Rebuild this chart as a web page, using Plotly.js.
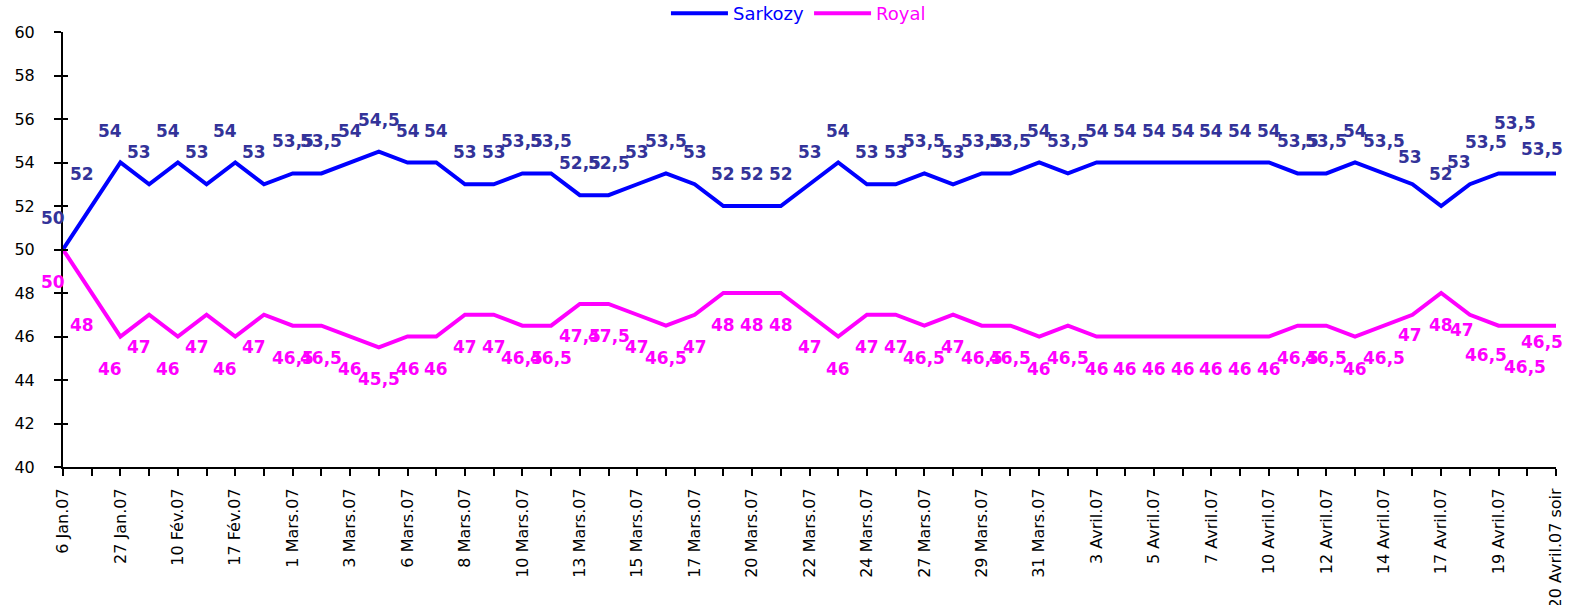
<!DOCTYPE html>
<html>
<head>
<meta charset="utf-8">
<script src="https://cdn.plot.ly/plotly-3.0.1.min.js"></script>
<style>html,body{margin:0;padding:0;background:#fff;}#chart{width:1569px;height:605px;}</style>
</head>
<body>
<div id="chart"></div>
<script>
// Tick labels (one every two survey points)
const tickLabels = ["6 Jan.07","27 Jan.07","10 Fév.07","17 Fév.07","1 Mars.07","3 Mars.07","6 Mars.07","8 Mars.07","10 Mars.07","13 Mars.07","15 Mars.07","17 Mars.07","20 Mars.07","22 Mars.07","24 Mars.07","27 Mars.07","29 Mars.07","31 Mars.07","3 Avril.07","5 Avril.07","7 Avril.07","10 Avril.07","12 Avril.07","14 Avril.07","17 Avril.07","19 Avril.07","20 Avril.07 soir"];

const sarkozy = [50,52,54,53,54,53,54,53,53.5,53.5,54,54.5,54,54,53,53,53.5,53.5,52.5,52.5,53,53.5,53,52,52,52,53,54,53,53,53.5,53,53.5,53.5,54,53.5,54,54,54,54,54,54,54,53.5,53.5,54,53.5,53,52,53,53.5,53.5,53.5];
const royal = [50,48,46,47,46,47,46,47,46.5,46.5,46,45.5,46,46,47,47,46.5,46.5,47.5,47.5,47,46.5,47,48,48,48,47,46,47,47,46.5,47,46.5,46.5,46,46.5,46,46,46,46,46,46,46,46.5,46.5,46,46.5,47,48,47,46.5,46.5,46.5];

// Style only: pixel nudges of a few value labels, as placed in the original
const nudgeSarkozy = {47: [-2, 27], 49: [-11, 22], 50: [-13, 31], 51: [-12, 50], 52: [-14, 24]};
const nudgeRoyal = {47: [-2, -20], 49: [-8, -15], 50: [-13, -29], 51: [-2, -41], 52: [-14, -16]};

const idx = sarkozy.map((_, i) => i);
const tickVals = tickLabels.map((_, k) => 2 * k);
const fmt = v => String(v).replace('.', ',');

const traces = [
  {x: idx, y: sarkozy, mode: 'lines', name: '<span style="color:#0000FF">Sarkozy</span>',
   line: {color: '#0000FF', width: 4}, hoverinfo: 'skip'},
  {x: idx, y: royal, mode: 'lines', name: '<span style="color:#FF00FF">Royal</span>',
   line: {color: '#FF00FF', width: 4}, hoverinfo: 'skip'}
];

const labelFont = (c) => ({family: 'DejaVu Sans', size: 17, color: c, weight: 'bold'});
const annotations = [];
function addLabels(series, nudges, dir, color) {
  series.forEach((v, i) => {
    const d = nudges[i] || [i < 8 ? -10 : 0, 32 * dir];
    annotations.push({x: i, y: v, xref: 'x', yref: 'y', text: fmt(v), showarrow: false,
      xshift: d[0], yshift: d[1], font: labelFont(color)});
  });
}
addLabels(sarkozy, nudgeSarkozy, 1, '#333399');
addLabels(royal, nudgeRoyal, -1, '#FF00FF');

const layout = {
  width: 1569, height: 605,
  margin: {l: 63, r: 13, t: 32, b: 138, autoexpand: false},
  paper_bgcolor: '#fff', plot_bgcolor: '#fff',
  font: {family: 'DejaVu Sans', size: 16, color: '#000'},
  showlegend: true,
  legend: {orientation: 'h', x: 0.4926, xanchor: 'center', y: 1.0, yanchor: 'bottom', itemwidth: 57,
           font: {family: 'DejaVu Sans', size: 18}, bgcolor: 'rgba(0,0,0,0)'},
  xaxis: {
    range: [0, 52], tickmode: 'array', tickvals: tickVals, ticktext: tickLabels,
    tickangle: -90, ticks: 'outside', ticklen: 7, tickwidth: 2, tickcolor: '#000',
    showline: true, linecolor: '#000', linewidth: 2, showgrid: false, zeroline: false,
    tickfont: {family: 'DejaVu Sans', size: 16, color: '#000'}, ticklabelstandoff: 6,
    minor: {tickmode: 'linear', tick0: 0, dtick: 1, ticks: 'outside', ticklen: 7, tickwidth: 2, tickcolor: '#000', showgrid: false},
    fixedrange: true
  },
  yaxis: {
    range: [40, 60], dtick: 2, tick0: 40, ticks: 'outside', ticklen: 7, tickwidth: 2, tickcolor: '#000',
    showline: true, linecolor: '#000', linewidth: 2, showgrid: false, zeroline: false,
    tickfont: {family: 'DejaVu Sans', size: 16, color: '#000'}, ticklabelstandoff: 16,
    fixedrange: true
  },
  yaxis2: {
    range: [40, 60], dtick: 2, tick0: 40, overlaying: 'y', side: 'left', ticks: 'inside', ticklen: 5, tickwidth: 2,
    tickcolor: '#000', showticklabels: false, showgrid: false, zeroline: false, showline: false, fixedrange: true
  },
  annotations: annotations
};

// invisible trace to activate yaxis2 tick marks
traces.push({x: [0], y: [50], yaxis: 'y2', mode: 'markers', marker: {opacity: 0}, showlegend: false, hoverinfo: 'skip'});

Plotly.newPlot('chart', traces, layout, {displayModeBar: false, staticPlot: true});
</script>
</body>
</html>
